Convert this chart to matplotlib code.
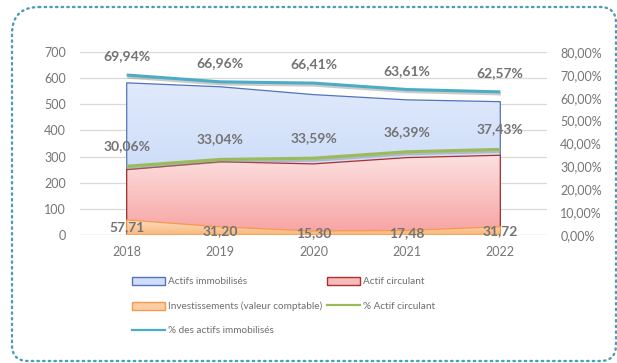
import numpy as np
import matplotlib
matplotlib.use("Agg")
import matplotlib.pyplot as plt
from matplotlib.patches import Patch, PathPatch
from matplotlib.lines import Line2D
from matplotlib.path import Path
from matplotlib.colors import LinearSegmentedColormap
import matplotlib.patheffects as pe

plt.rcParams['font.family'] = ['Lato', 'DejaVu Sans']

years = ["2018", "2019", "2020", "2021", "2022"]
actifs_immobilises = [582, 567, 537, 517, 510]
actif_circulant = [250, 280, 272, 296, 305]
investissements = [57.71, 31.20, 15.30, 17.48, 31.72]
pct_actifs_immobilises = [69.94, 66.96, 66.41, 63.61, 62.57]
pct_actif_circulant = [30.06, 33.04, 33.59, 36.39, 37.43]

left_ticks = list(range(0, 701, 100))
right_ticks = list(range(0, 81, 10))

W, H = 617, 363
fig = plt.figure(figsize=(W / 100, H / 100), dpi=100)

ax = fig.add_axes([80 / W, (H - 235) / H, (547 - 80) / W, (235 - 52) / H])
ax2 = ax.twinx()

x = np.arange(len(years))
TICK_C = "#767676"
LABEL_C = "#737373"
LEG_C = "#6e6e6e"


def gradient_area(axis, xs, ys, c_top, c_bot, edge, z):
    poly = axis.fill_between(xs, 0, ys, facecolor="none", edgecolor=edge,
                             linewidth=0.9, zorder=z + 0.1)
    cmap = LinearSegmentedColormap.from_list("g", [c_bot, c_top])
    grad = np.linspace(0, 1, 256).reshape(-1, 1)
    img = axis.imshow(grad, cmap=cmap, aspect="auto", origin="lower",
                      extent=[xs[0], xs[-1], 0, max(ys)], zorder=z,
                      interpolation="bilinear")
    img.set_clip_path(poly.get_paths()[0], transform=axis.transData)
    return poly


gradient_area(ax, x, actifs_immobilises, "#e0eafc", "#c0d3f5", "#5473b8", 2)
gradient_area(ax, x, actif_circulant, "#fde0e0", "#f7a2a2", "#a8302e", 3)
gradient_area(ax, x, investissements, "#fde0c4", "#f9b77c", "#f59a4e", 4)

ax.set_xlim(-0.5, len(years) - 0.5)
ax.set_ylim(0, 700)
ax.set_yticks(left_ticks)
ax.set_xticks(x)
ax.set_xticklabels(years)
ax.grid(axis="y", color="#d9d9d9", linewidth=0.9, zorder=0)
ax.set_axisbelow(True)
for s in ax.spines.values():
    s.set_visible(False)
ax.axhline(0, color="#d9d9d9", linewidth=0.9, zorder=1)
ax.tick_params(axis="y", length=0, pad=10, labelsize=9, labelcolor=TICK_C)
ax.tick_params(axis="x", length=0, pad=8, labelsize=9, labelcolor=TICK_C)

# percentage lines on the secondary axis
shadow = [pe.SimpleLineShadow(offset=(0.5, -1.5), shadow_color="#8a8a8a", alpha=0.45), pe.Normal()]
ax2.plot(x, pct_actif_circulant, color="#9bbb59", linewidth=2.2, zorder=5,
         solid_capstyle="butt", path_effects=shadow)
ax2.plot(x, pct_actifs_immobilises, color="#4bacc6", linewidth=2.2, zorder=6,
         solid_capstyle="butt", path_effects=shadow)
ax2.set_ylim(0, 80)
ax2.set_yticks(right_ticks)
ax2.set_yticklabels([f"{v:.2f}".replace(".", ",") + "%" for v in right_ticks])
ax2.tick_params(axis="y", length=0, pad=9.5, labelsize=9, labelcolor=TICK_C)
for s in ax2.spines.values():
    s.set_visible(False)


def fr(v, pct=False):
    t = f"{v:.2f}".replace(".", ",")
    return t + "%" if pct else t


for xi, v in zip(x, pct_actifs_immobilises):
    ax2.annotate(fr(v, True), (xi, v), xytext=(0, 13.5), textcoords="offset points",
                 ha="center", va="center", fontsize=10, fontweight="bold",
                 color=LABEL_C, zorder=10)
for xi, v in zip(x, pct_actif_circulant):
    ax2.annotate(fr(v, True), (xi, v), xytext=(0, 14.5), textcoords="offset points",
                 ha="center", va="center", fontsize=10, fontweight="bold",
                 color=LABEL_C, zorder=10)
for xi, v in zip(x, investissements):
    ax.annotate(fr(v), (xi, v / 2), xytext=(0, 0), textcoords="offset points",
                ha="center", va="center", fontsize=10, fontweight="bold",
                color=LABEL_C, zorder=10, annotation_clip=False)

# legend, two columns filled row by row
h_immo = Patch(facecolor="#d0defa", edgecolor="#5473b8", linewidth=1.0, label="Actifs immobilisés")
h_circ = Patch(facecolor="#f9bcbc", edgecolor="#a8302e", linewidth=1.0, label="Actif circulant")
h_inv = Patch(facecolor="#fbcda2", edgecolor="#f59a4e", linewidth=1.0, label="Investissements (valeur comptable)")
h_pc = Line2D([], [], color="#9bbb59", linewidth=1.6, label="% Actif circulant")
h_pi = Line2D([], [], color="#4bacc6", linewidth=1.6, label="% des actifs immobilisés")

leg_kw = dict(frameon=False, fontsize=7.2, labelcolor=LEG_C, borderpad=0,
              handlelength=3.3, handleheight=0.85, handletextpad=0.3,
              labelspacing=1.5, borderaxespad=0)
leg1 = fig.legend(handles=[h_immo, h_inv, h_pi], loc="upper left",
                  bbox_to_anchor=(132 / W, (H - 277) / H), **leg_kw)
leg2 = fig.legend(handles=[h_circ, h_pc], loc="upper left",
                  bbox_to_anchor=(327 / W, (H - 277) / H), **leg_kw)

# dotted rounded frame (pixel coordinates)
L, R, T, B = 12, 616, H - 7, H - 361
rtl, r = 27, 16
verts = [
    (L + rtl, T), (R - r, T), (R, T), (R, T - r),
    (R, B + r), (R, B), (R - r, B),
    (L + r, B), (L, B), (L, B + r),
    (L, T - rtl), (L, T), (L + rtl, T),
]
codes = [Path.MOVETO, Path.LINETO, Path.CURVE3, Path.CURVE3,
         Path.LINETO, Path.CURVE3, Path.CURVE3,
         Path.LINETO, Path.CURVE3, Path.CURVE3,
         Path.LINETO, Path.CURVE3, Path.CURVE3]
frame = PathPatch(Path(verts, codes), transform=None, facecolor="none",
                  edgecolor="#4a9db5", linewidth=1.7, linestyle=(0, (0.6, 1.8)),
                  capstyle="round")
fig.patches.append(frame)

fig.savefig("out.png", dpi=100)
